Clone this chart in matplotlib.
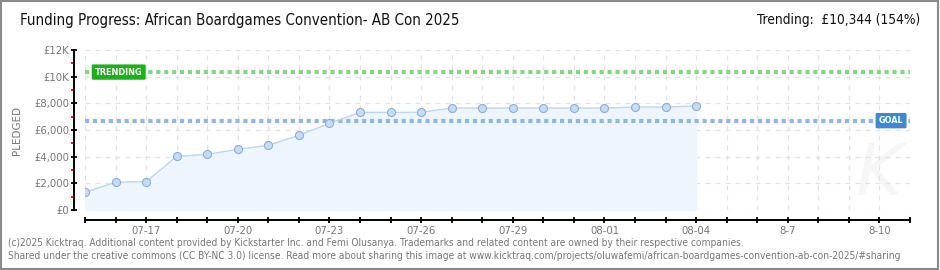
import numpy as np
import matplotlib
matplotlib.use("Agg")
import matplotlib.pyplot as plt
from matplotlib.patches import Rectangle

plt.rcParams['font.family'] = ['DejaVu Sans']

# data
days = ["07-15", "07-16", "07-17", "07-18", "07-19", "07-20", "07-21", "07-22",
        "07-23", "07-24", "07-25", "07-26", "07-27", "07-28", "07-29", "07-30",
        "07-31", "08-01", "08-02", "08-03", "08-04"]
pledged = [1330, 2080, 2130, 4020, 4170, 4550, 4850, 5600,
           6500, 7320, 7320, 7330, 7650, 7650, 7650, 7650,
           7650, 7650, 7720, 7720, 7800]
n_days = 28  # 07-15 .. 08-11
xlabels = ["07-17", "07-20", "07-23", "07-26", "07-29", "08-01", "08-04", "8-7", "8-10"]
xlabel_pos = [2, 5, 8, 11, 14, 17, 20, 23, 26]
ytick_vals = [0, 2000, 4000, 6000, 8000, 10000, 12000]
ytick_labels = ["£0", "£2,000", "£4,000", "£6,000", "£8,000", "£10K", "£12K"]
goal = 6700
trending = 10344

fig = plt.figure(figsize=(9.4, 2.7), dpi=100)
ax = fig.add_axes([85/940, 60/270, 825/940, 160/270])

x = np.arange(len(pledged))
ax.fill_between(x, pledged, 0, color="#eef5fd", zorder=1)
ax.plot(x, pledged, color="#bcd6f2", lw=1, zorder=3)
ax.plot(x, pledged, "o", ms=5.8, mfc="#c4dcf6", mec="#8eaed4", mew=0.8, zorder=4)

ax.axhline(trending, color="#86d486", lw=3, ls=(0, (1, 0.9)), zorder=2)
ax.axhline(goal, color="#92b6e2", lw=3, ls=(0, (1, 0.9)), zorder=2)

ax.text(0.012, trending, "TRENDING", transform=ax.get_yaxis_transform(),
        fontsize=6.5, color="white", fontweight="bold", fontstretch="condensed",
        va="center", ha="left", zorder=6,
        bbox=dict(boxstyle="round,pad=0.35,rounding_size=0.15", fc="#1cb01c", ec="none"))
ax.text(0.992, goal, "GOAL", transform=ax.get_yaxis_transform(),
        fontsize=6.5, color="white", fontweight="bold", fontstretch="condensed",
        va="center", ha="right", zorder=6,
        bbox=dict(boxstyle="round,pad=0.35,rounding_size=0.15", fc="#3d88d8", ec="none"))

ax.set_xlim(0, n_days - 1)
ax.set_ylim(0, 12000)
ax.set_xticks(np.arange(n_days))
lab = [""] * n_days
for p, l in zip(xlabel_pos, xlabels):
    lab[p] = l
ax.set_xticklabels(lab)
ax.set_yticks(ytick_vals)
ax.set_yticklabels(ytick_labels)
ax.set_yticks(np.arange(1000, 12000, 2000), minor=True)

ax.grid(True, color="#e2e2e2", ls=(0, (4, 4)), lw=0.9, zorder=0)
ax.set_axisbelow(True)

for s in ["top", "right"]:
    ax.spines[s].set_visible(False)
# outward offsets are in points: 11 px and 10 px
ax.spines["left"].set_position(("outward", 11 * 0.72))
ax.spines["bottom"].set_position(("outward", 10 * 0.72))
ax.spines["left"].set_linewidth(1.4)
ax.spines["bottom"].set_linewidth(1.4)

ax.tick_params(axis="both", which="major", direction="inout", length=4, width=1.3,
               labelsize=7.3, labelcolor="#777777", pad=1.5)
ax.tick_params(axis="y", which="minor", direction="out", length=2.2, width=1.3, color="red")
ax.tick_params(axis="x", pad=2)

ax.set_ylabel("PLEDGED", fontsize=7.5, color="#777777")
ax.yaxis.set_label_coords(-0.0764, 0.5)

# watermark
ax.text(0.962, 0.0, "K", transform=ax.transAxes, fontsize=52, color="#f6f6f6",
        style="italic", ha="center", va="bottom", zorder=0.5)

cond = dict(fontstretch="condensed", va="center")
fig.text(20/940, 1 - 20/270, "Funding Progress: African Boardgames Convention- AB Con 2025",
         fontsize=10.8, color="#111111", ha="left", **cond)
fig.text(920/940, 1 - 20/270, "Trending:  £10,344 (154%)",
         fontsize=9.8, color="#111111", ha="right", **cond)
fig.text(8/940, 1 - 243/270,
         "(c)2025 Kicktraq. Additional content provided by Kickstarter Inc. and Femi Olusanya. "
         "Trademarks and related content are owned by their respective companies.",
         fontsize=7.3, color="#777777", ha="left", **cond)
fig.text(8/940, 1 - 256/270,
         "Shared under the creative commons (CC BY-NC 3.0) license. Read more about sharing this image at "
         "www.kicktraq.com/projects/oluwafemi/african-boardgames-convention-ab-con-2025/#sharing",
         fontsize=7.3, color="#777777", ha="left", **cond)

fig.patches.append(Rectangle((0.5/940, 1.5/270), 937.5/940, 268/270, transform=fig.transFigure,
                             fill=False, ec="#8a8a8a", lw=1.5))

fig.savefig("out.png", dpi=100)
